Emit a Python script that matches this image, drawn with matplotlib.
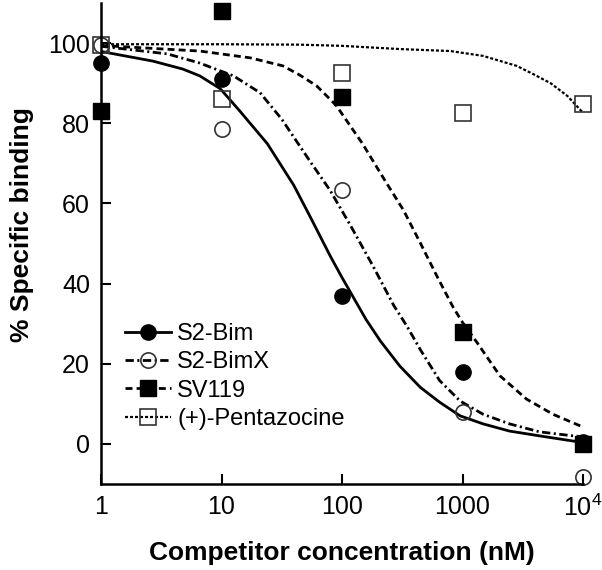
import matplotlib
matplotlib.use("Agg")
import matplotlib.pyplot as plt
import numpy as np
from matplotlib.lines import Line2D

plt.rcParams["font.family"] = ["Liberation Sans", "DejaVu Sans"]
plt.rcParams["mathtext.fontset"] = "custom"
plt.rcParams["mathtext.rm"] = "Liberation Sans"
plt.rcParams["lines.scale_dashes"] = False

# measured points (% specific binding)
conc = [1, 10, 100, 1000, 10000]
s2bim_pts = [95, 91, 37, 18, 0.5]
s2bimx_pts = [99.5, 78.5, 63.3, 8, -8.2]
sv119_pts = [83, 108, 86.6, 27.8, 0]
penta_pts = [99.5, 86, 92.6, 82.6, 84.8]

# fitted curves (log10 of concentration, % binding)
s2bim_log = [0, 0.43, 0.68, 0.82, 0.99, 1.15, 1.38, 1.6, 1.73, 1.9, 2.0,
             2.2, 2.32, 2.48, 2.65, 2.81, 2.98, 3.17, 3.39, 3.64, 3.92, 4.0]
s2bim_fit = [97.9, 95.5, 93.5, 91.8, 88.6, 83.1, 74.9, 64.5, 57, 47, 41.5,
             31, 25.6, 19.4, 14.1, 10.4, 7, 5, 3.2, 2.0, 0.7, 0.5]

s2bimx_log = [0, 0.55, 0.82, 1.1, 1.32, 1.5, 1.73, 1.9, 2.07, 2.26, 2.43,
              2.54, 2.65, 2.81, 2.98, 3.17, 3.39, 3.64, 3.92, 4.0]
s2bimx_fit = [99.2, 97.3, 95.0, 91.8, 87.6, 81, 70.7, 63.3, 54.5, 44.2, 34.5,
              29.3, 23.5, 15.8, 10.7, 7.4, 5, 3, 2, 1.8]

sv119_log = [0, 0.82, 1.24, 1.51, 1.65, 1.79, 1.95, 2.17, 2.34, 2.51, 2.65,
             2.79, 2.92, 3.0, 3.12, 3.31, 3.53, 3.75, 4.0]
sv119_fit = [99.4, 98, 96.3, 94.3, 92, 89.3, 84.5, 74.9, 66.5, 58.3, 50.1,
             41.7, 34.2, 30.3, 25.3, 17, 11.2, 7.4, 4.2]

penta_log = [0, 1.0, 1.65, 2.0, 2.48, 2.9, 3.17, 3.45, 3.59, 3.73, 3.87, 4.0]
penta_fit = [99.7, 99.7, 99.6, 99.3, 98.5, 98, 96.8, 94.3, 92.2, 90, 86.8, 82.6]

x_ticks = [1, 10, 100, 1000, 10000]
x_labels = ["1", "10", "100", "1000", "10$^4$"]
y_ticks = [0, 20, 40, 60, 80, 100]

fig = plt.figure(figsize=(6.02, 5.70), dpi=100)
ax = fig.add_axes([0.1678, 0.1509, 0.8007, 0.8439])

dashdot = (0, (6, 2.5, 1.5, 2.5))
dashed = (0, (5, 3))
dotted = (0, (2.2, 1.4))

ax.plot(10 ** np.array(s2bim_log), s2bim_fit, color="black", lw=2.0)
ax.plot(10 ** np.array(s2bimx_log), s2bimx_fit, color="black", lw=2.0, linestyle=dashdot)
ax.plot(10 ** np.array(sv119_log), sv119_fit, color="black", lw=2.0, linestyle=dashed)
ax.plot(10 ** np.array(penta_log), penta_fit, color="black", lw=1.6, linestyle=dotted)

ax.plot(conc, penta_pts, "s", ms=11.5, mfc="none", mec="#333333", mew=1.2, clip_on=False)
ax.plot(conc, s2bimx_pts, "o", ms=11, mfc="none", mec="#333333", mew=1.2, clip_on=False)
ax.plot(conc, s2bim_pts, "o", ms=11, color="black", clip_on=False)
ax.plot(conc, sv119_pts, "s", ms=11.5, color="black", clip_on=False)

ax.set_xscale("log")
ax.set_xlim(1, 10000)
ax.set_ylim(-10, 110)
ax.set_xticks(x_ticks)
ax.set_xticklabels(x_labels)
ax.minorticks_off()
ax.set_yticks(y_ticks)

for side in ["top", "right"]:
    ax.spines[side].set_visible(False)
for side in ["left", "bottom"]:
    ax.spines[side].set_linewidth(1.8)

ax.tick_params(direction="in", length=7, width=1.5, labelsize=18, pad=8)

ax.set_xlabel("Competitor concentration (nM)", fontsize=19, fontweight="bold", labelpad=14)
ax.set_ylabel("% Specific binding", fontsize=19, fontweight="bold")
ax.yaxis.set_label_coords(-0.14, 0.54)

handles = [
    Line2D([], [], color="black", lw=2.0, marker="o", ms=11),
    Line2D([], [], color="black", lw=2.0, linestyle=dashdot, marker="o", ms=11,
           mfc="none", mec="#333333", mew=1.2),
    Line2D([], [], color="black", lw=2.0, linestyle=dashed, marker="s", ms=11.5),
    Line2D([], [], color="black", lw=1.6, linestyle=dotted, marker="s", ms=11.5,
           mfc="none", mec="#333333", mew=1.2),
]
labels = ["S2-Bim", "S2-BimX", "SV119", "(+)-Pentazocine"]
ax.legend(handles, labels, loc="upper left", bbox_to_anchor=(0.05, 0.335),
          frameon=False, fontsize=17, handlelength=1.95, handletextpad=0.25,
          labelspacing=0.27, borderpad=0, borderaxespad=0)

fig.savefig("out.png", dpi=100)
